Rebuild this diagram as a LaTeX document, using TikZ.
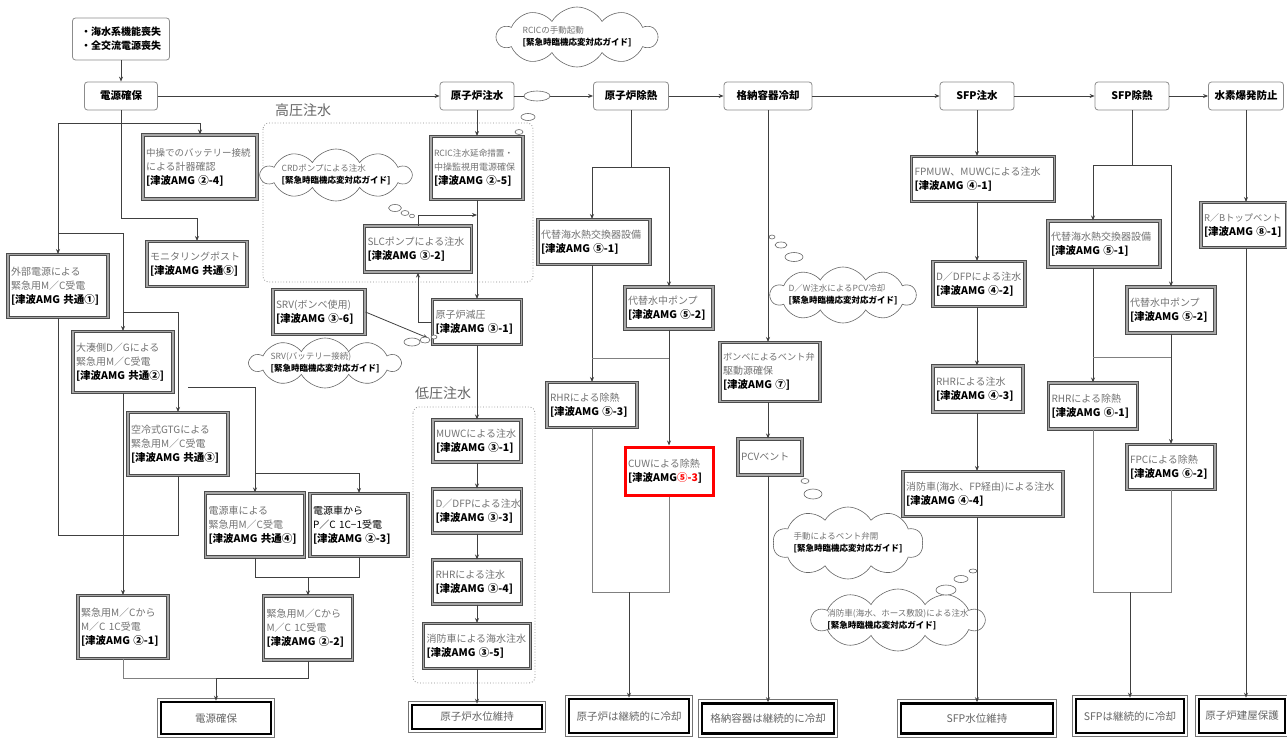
\documentclass[tikz,border=0pt]{standalone}
\usepackage{fontspec}
\setmainfont{Noto Sans CJK JP}
\usetikzlibrary{arrows.meta,shapes.symbols,calc}
\newcommand\gtx[1]{\textcolor{black!55}{#1}}
\newcommand\smg[2]{{\fontsize{#1}{14}\selectfont\textcolor{black!55}{#2}}}
\newcommand\btx[1]{{\fontsize{10.5}{14}\selectfont\bfseries #1}}
\newcommand\finbox[5]{%
  \node[finb, minimum width=#3, minimum height=#4] (#1) at (#2) {#5};
  \draw[black!55, line width=0.6pt] ($(#1.north west)+(-2.5,-2.5)$) rectangle ($(#1.south east)+(2.5,2.5)$);}
\newcommand\amgbox[6][amg]{%
  \pgfmathsetmacro\amgtw{#4-6}%
  \node[#1, minimum width=#4pt, minimum height=#5pt, text width=\amgtw pt] (#2) at (#3) {#6};}
\newcommand\cloudbox[5]{%
  \node[cloudsh, minimum width=#3, minimum height=#4] (#1) at (#2) {};
  \node[cloudtxt] (#1T) at (#1) {#5};}
\begin{document}
\begin{tikzpicture}[x=1pt,y=-1pt,
  every node/.style={font=\fontsize{10}{14}\selectfont, inner sep=2pt},
  hdr/.style={draw=black!45, line width=0.8pt, rounded corners=3pt, fill=white, minimum height=28pt, font=\fontsize{10.5}{13}\selectfont\bfseries},
  amg/.style={draw=black!70, line width=1pt, double=black!35, double distance=1.4pt, fill=white, align=left, inner sep=2pt},
  cuwb/.style={draw=red, line width=3pt, fill=white, align=left, inner sep=2pt},
  finb/.style={draw=black, line width=2.5pt, fill=white, text=black!60, font=\fontsize{10.5}{13}\selectfont},
  grp/.style={draw=black!45, dotted, line width=0.8pt, rounded corners=6pt},
  grplbl/.style={font=\fontsize{14}{16}\selectfont, text=black!60},
  cloudsh/.style={cloud, cloud puffs=10, cloud puff arc=120, cloud ignores aspect, draw=black!60, line width=0.6pt, fill=white, inner sep=0pt},
  cloudtxt/.style={align=left, font=\fontsize{8.5}{12}\selectfont},
  bub/.style={draw=black!60, line width=0.6pt, fill=white},
  ln/.style={draw=black!75, line width=0.8pt},
  ln2/.style={draw=black!50, line width=0.6pt},
  arr/.style={ln, -{Stealth[length=5pt,width=4pt]}}
]
\path[use as bounding box] (0,0) rectangle (1287,738);

% groups
\draw[grp] (263,123) rectangle (533,282);
\node[grplbl] (lblHi) at (303,110) {高圧注水};
\draw[grp] (413,407) rectangle (535,683);
\node[grplbl] (lblLo) at (443,393) {低圧注水};

% clouds
\cloudbox{rcicC}{577,37}{160pt}{60pt}{\gtx{RCICの手動起動}\\\textbf{[緊急時臨機応変対応ガイド]}}
\cloudbox{crdC}{336,175}{150pt}{52pt}{\gtx{CRDポンプによる注水}\\\textbf{[緊急時臨機応変対応ガイド]}}
\cloudbox{srvC}{325,363}{150pt}{50pt}{\gtx{SRV(バッテリー接続)}\\\textbf{[緊急時臨機応変対応ガイド]}}
\cloudbox{dwC}{843,295}{145pt}{56pt}{\gtx{D／W注水によるPCV冷却}\\\textbf{[緊急時臨機応変対応ガイド]}}
\cloudbox{tedoC}{848,543}{150pt}{72pt}{\gtx{手動によるベント弁開}\\\textbf{[緊急時臨機応変対応ガイド]}}
\cloudbox{shoboC}{898,620}{172pt}{62pt}{\gtx{消防車(海水、ホース敷設)による注水}\\\textbf{[緊急時臨機応変対応ガイド]}}

% header nodes
\node[hdr, minimum width=97pt, minimum height=42pt, align=left, font=\fontsize{10}{14}\selectfont\bfseries] (start) at (121,39) {・海水系機能喪失\\・全交流電源喪失};
\node[hdr, minimum width=73pt] (dengen) at (121,96) {電源確保};
\node[hdr, minimum width=74pt] (genshiro) at (477,96) {原子炉注水};
\node[hdr, minimum width=75pt] (jonetsu) at (631,96) {原子炉除熱};
\node[hdr, minimum width=88pt] (kakuno) at (768,96) {格納容器冷却};
\node[hdr, minimum width=74pt] (sfpchu) at (977,96) {SFP注水};
\node[hdr, minimum width=74pt] (sfpjo) at (1132,96) {SFP除熱};
\node[hdr, minimum width=75pt] (suiso) at (1246,96) {水素爆発防止};

% power column
\amgbox{chuso}{200,167}{114}{64}{\smg{9.5}{中操でのバッテリー接続}\\\gtx{による計器確認}\\\btx{[津波AMG ②-4]}}
\amgbox{monitor}{197,264}{100}{45}{\gtx{モニタリングポスト}\\\btx{[津波AMG 共通⑤]}}
\amgbox{gaibu}{58,286}{100}{63}{\gtx{外部電源による}\\\gtx{緊急用M／C受電}\\\btx{[津波AMG 共通①]}}
\amgbox{ominato}{123,362}{100}{61}{\gtx{大湊側D／Gによる}\\\gtx{緊急用M／C受電}\\\btx{[津波AMG 共通②]}}
\amgbox{gtg}{178,444}{100}{63}{\gtx{空冷式GTGによる}\\\gtx{緊急用M／C受電}\\\btx{[津波AMG 共通③]}}
\amgbox{densha1}{255,525}{99}{64}{\gtx{電源車による}\\\gtx{緊急用M／C受電}\\\btx{[津波AMG 共通④]}}
\amgbox{densha2}{359,525}{98}{63}{電源車から\\P／C 1C−1受電\\\btx{[津波AMG ②-3]}}
\amgbox{mc1}{123,627}{90}{63}{\gtx{緊急用M／Cから}\\\gtx{M／C 1C受電}\\\btx{[津波AMG ②-1]}}
\amgbox{mc2}{308,628}{89}{64}{\gtx{緊急用M／Cから}\\\gtx{M／C 1C受電}\\\btx{[津波AMG ②-2]}}

% reactor injection column
\amgbox{rcic}{477,168}{92}{63}{\smg{8.6}{RCIC注水延命措置・}\\\smg{9}{中操監視用電源確保}\\\btx{[津波AMG ②-5]}}
\amgbox{slc}{418,249}{107}{46}{\gtx{SLCポンプによる注水}\\\btx{[津波AMG ③-2]}}
\amgbox{genatsu}{477,322}{89}{45}{\gtx{原子炉減圧}\\\btx{[津波AMG ③-1]}}
\amgbox{srv}{319,312}{92}{45}{\gtx{SRV(ボンベ使用)}\\\btx{[津波AMG ③-6]}}
\amgbox{muwc}{477,441}{88}{42}{\gtx{MUWCによる注水}\\\btx{[津波AMG ③-1]}}
\amgbox{ddfp3}{477,511}{89}{44}{\gtx{D／DFPによる注水}\\\btx{[津波AMG ③-3]}}
\amgbox{rhr3}{477,582}{89}{44}{\gtx{RHRによる注水}\\\btx{[津波AMG ③-4]}}
\amgbox{shobo3}{477,646}{107}{45}{\gtx{消防車による海水注水}\\\btx{[津波AMG ③-5]}}

% reactor heat removal column
\amgbox{daitai1}{594,242}{112}{45}{\gtx{代替海水熱交換器設備}\\\btx{[津波AMG ⑤-1]}}
\amgbox{suichu1}{669,308}{88}{42}{\gtx{代替水中ポンプ}\\\btx{[津波AMG ⑤-2]}}
\amgbox{rhrjo1}{592,405}{90}{45}{\gtx{RHRによる除熱}\\\btx{[津波AMG ⑤-3]}}
\amgbox[cuwb]{cuw}{669,471}{88}{48}{\gtx{CUWによる除熱}\\\btx{[津波AMG}{\color{red}\btx{⑤-3}}\btx{]}}

% containment column
\amgbox{bombe}{770,372}{100}{59}{\smg{9.2}{ボンベによるベント弁}\\\gtx{駆動源確保}\\\btx{[津波AMG ⑦]}}
\amgbox{pcv}{770,457}{64}{36}{\gtx{PCVベント}}

% SFP injection column
\amgbox{fpmuw}{983,179}{143}{45}{\gtx{FPMUW、MUWCによる注水}\\\btx{[津波AMG ④-1]}}
\amgbox{ddfp4}{979,284}{92}{45}{\gtx{D／DFPによる注水}\\\btx{[津波AMG ④-2]}}
\amgbox{rhr4}{978,389}{90}{46}{\gtx{RHRによる注水}\\\btx{[津波AMG ④-3]}}
\amgbox{shobo4}{983,494}{160}{45}{\gtx{消防車(海水、FP経由)による注水}\\\btx{[津波AMG ④-4]}}

% SFP heat removal column
\amgbox{daitai2}{1104,244}{112}{46}{\gtx{代替海水熱交換器設備}\\\btx{[津波AMG ⑤-1]}}
\amgbox{suichu2}{1171,310}{88}{46}{\gtx{代替水中ポンプ}\\\btx{[津波AMG ⑤-2]}}
\amgbox{rhr6}{1093,406}{89}{46}{\gtx{RHRによる除熱}\\\btx{[津波AMG ⑥-1]}}
\amgbox{fpc}{1171,467}{88}{45}{\gtx{FPCによる除熱}\\\btx{[津波AMG ⑥-2]}}

% hydrogen column
\amgbox{rb}{1244,225}{86}{45}{\smg{9.3}{R／Bトップベント}\\\btx{[津波AMG ⑧-1]}}

% final boxes
\finbox{fin1}{216,718}{110pt}{32pt}{電源確保}
\finbox{fin2}{477,717}{130pt}{24pt}{原子炉水位維持}
\finbox{fin3}{629,716}{120pt}{34pt}{原子炉は継続的に冷却}
\finbox{fin4}{768,718.5}{132pt}{30pt}{格納容器は継続的に冷却}
\finbox{fin5}{977,718.5}{152pt}{30pt}{SFP水位維持}
\finbox{fin6}{1130,716}{108pt}{34pt}{SFPは継続的に冷却}
\finbox{fin7}{1242,716}{86pt}{34pt}{原子炉建屋保護}

% main flow
\draw[arr] (start) -- (dengen);
\draw[arr] (dengen) -- (genshiro);
\draw[arr] (genshiro) -- (jonetsu);
\draw[arr] (jonetsu) -- (kakuno);
\draw[arr] (kakuno) -- (sfpchu);
\draw[arr] (sfpchu) -- (sfpjo);
\draw[arr] (sfpjo) -- (suiso);

% power connectors
\coordinate (p1) at (121,123);
\coordinate (p2) at (121,218);
\coordinate (p3) at (58,233);
\coordinate (p4) at (123,312);
\coordinate (p5) at (188,387);
\coordinate (p6) at (255,473);
\draw[ln] (dengen.south) -- (p2);
\draw[arr] (p2) -| (monitor.north);
\draw[arr] (p1) -| (chuso.north);
\draw[arr] (p1) -| (gaibu.north);
\draw[arr] (p3) -| (ominato.north);
\draw[arr] (p4) -| (gtg.north);
\draw[arr] (p5) -| (densha1.north);
\draw[arr] (p6) -| (densha2.north);
\draw[arr] (ominato) -- (mc1);
\coordinate (q1) at (58,535);
\coordinate (q2) at (178,535);
\draw[ln] (gaibu.south) -- (q1) -- (q2) -- (gtg.south);
\coordinate (q3) at (255,577);
\coordinate (q4) at (359,577);
\coordinate (q5) at (308,577);
\draw[ln] (densha1.south) -- (q3) -- (q4) -- (densha2.south);
\draw[arr] (q5) -- (mc2.north);
\coordinate (q6) at (123,678);
\coordinate (q7) at (308,678);
\coordinate (q8) at (216,678);
\draw[ln2] (mc1.south) -- (q6) -- (q7);
\draw[ln] (q8) -- (q7) -- (mc2.south);
\draw[arr] (q8) -- (fin1.north);

% reactor injection connectors
\draw[arr] (genshiro) -- (rcic);
\draw[arr] (rcic) -- (genatsu);
\coordinate (h1) at (418,215);
\coordinate (h2) at (477,215);
\draw[arr] (slc.north) -- (h1) -- (h2);
\draw[arr] (genatsu.west) -| (slc.south);
\coordinate (srvtip) at (428,338);
\draw[arr] (srv.east) -- (srvtip);
\draw[arr] (genatsu) -- (muwc);
\draw[arr] (muwc) -- (ddfp3);
\draw[arr] (ddfp3) -- (rhr3);
\draw[arr] (rhr3) -- (shobo3);
\draw[arr] (shobo3) -- (fin2);

% reactor heat removal connectors
\coordinate (j0) at (631,167);
\coordinate (jA) at (592,167);
\coordinate (jB) at (669,167);
\draw[ln] (jonetsu.south) -- (j0);
\draw[arr] (jB) -- (jA) -- (jA |- daitai1.north);
\draw[arr] (jA) -- (jB) -- (suichu1.north);
\draw[arr] (jA |- daitai1.south) -- (rhrjo1.north);
\draw[arr] (suichu1) -- (cuw);
\coordinate (j3) at (592,358);
\coordinate (j4) at (669,358);
\draw[ln2] (j3) -- (j4);
\coordinate (j5) at (592,592);
\coordinate (j6) at (669,592);
\coordinate (j7) at (629,592);
\draw[ln2] (rhrjo1.south) -- (j5) -- (j6) -- (cuw.south);
\draw[arr] (j7) -- (fin3.north);

% containment connectors
\draw[arr] (kakuno.south) -- (kakuno.south |- bombe.north);
\draw[arr] (kakuno |- bombe.south) -- (kakuno |- pcv.north);
\draw[arr] (kakuno |- pcv.south) -- (fin4.north);

% SFP injection connectors
\draw[arr] (sfpchu.south) -- (sfpchu.south |- fpmuw.north);
\draw[arr] (sfpchu |- fpmuw.south) -- (sfpchu |- ddfp4.north);
\draw[arr] (sfpchu |- ddfp4.south) -- (sfpchu |- rhr4.north);
\draw[arr] (sfpchu |- rhr4.south) -- (sfpchu |- shobo4.north);
\draw[arr] (sfpchu |- shobo4.south) -- (fin5.north);

% SFP heat removal connectors
\coordinate (s0) at (1132,165);
\coordinate (sA) at (1093,165);
\coordinate (sB) at (1171,165);
\draw[ln] (sfpjo.south) -- (s0);
\draw[arr] (sB) -- (sA) -- (sA |- daitai2.north);
\draw[arr] (sA) -- (sB) -- (suichu2.north);
\draw[arr] (sA |- daitai2.south) -- (rhr6.north);
\draw[arr] (suichu2) -- (fpc);
\coordinate (s3) at (1093,357);
\coordinate (s4) at (1171,357);
\draw[ln2] (s3) -- (s4);
\coordinate (s5) at (1093,592);
\coordinate (s6) at (1171,592);
\coordinate (s7) at (1130,592);
\draw[ln2] (rhr6.south) -- (s5) -- (s6) -- (fpc.south);
\draw[arr] (s7) -- (fin6.north);

% hydrogen connectors
\draw[arr] (suiso.south) -- (suiso.south |- rb.north);
\draw[arr] (suiso |- rb.south) -- (suiso |- fin7.north);

% thought-bubble tails
\draw[bub] (537,96) ellipse (13 and 5);
\draw[bub] (528,117) ellipse (7 and 3.5);
\draw[bub] (519,132) ellipse (4 and 2.5);
\draw[bub] (395,208) ellipse (6.5 and 3.5);
\draw[bub] (405,213) ellipse (4 and 2.5);
\draw[bub] (412,216) ellipse (2.5 and 1.8);
\draw[bub] (412,342) ellipse (8 and 4);
\draw[bub] (425,340) ellipse (5 and 3);
\draw[bub] (434,337) ellipse (3 and 2);
\draw[bub] (772,237) ellipse (3 and 2);
\draw[bub] (781,245) ellipse (6 and 3);
\draw[bub] (794,257) ellipse (9 and 4.5);
\draw[bub] (805,481) ellipse (4 and 2.5);
\draw[bub] (813,494) ellipse (9 and 5);
\draw[bub] (973,571) ellipse (4 and 2);
\draw[bub] (961,579) ellipse (7 and 3.5);
\draw[bub] (946,590) ellipse (10 and 5);
\end{tikzpicture}
\end{document}
